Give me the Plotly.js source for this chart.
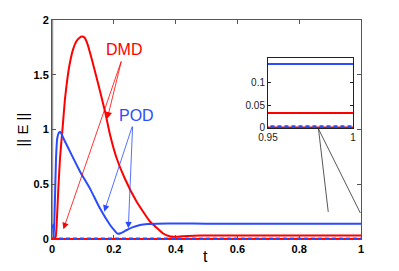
<!DOCTYPE html>
<html><head><meta charset="utf-8">
<script src="https://cdn.plot.ly/plotly-3.0.1.min.js"></script>
<style>html,body{margin:0;padding:0;background:#fff}#c{width:399px;height:271px}</style>
</head><body><div id="c"></div>
<script>
const tDMD = [0, 0.008, 0.012, 0.015, 0.02, 0.026, 0.035, 0.042, 0.05, 0.058, 0.068, 0.08, 0.09, 0.096, 0.105, 0.115, 0.128, 0.15, 0.172, 0.188, 0.209, 0.236, 0.274, 0.317, 0.34, 0.36, 0.38, 0.393, 0.42, 0.46, 0.5, 0.6, 0.8, 1.0];
const vDMD = [0, 0.005, 0.02, 0.13, 0.43, 0.74, 1.04, 1.28, 1.47, 1.61, 1.73, 1.81, 1.84, 1.85, 1.84, 1.78, 1.65, 1.41, 1.16, 0.95, 0.74, 0.55, 0.34, 0.16, 0.1, 0.05, 0.025, 0.02, 0.024, 0.03, 0.033, 0.033, 0.033, 0.033];
const tPOD = [0, 0.003, 0.004, 0.006, 0.009, 0.013, 0.017, 0.022, 0.026, 0.031, 0.037, 0.058, 0.091, 0.123, 0.155, 0.188, 0.2, 0.209, 0.213, 0.222, 0.242, 0.262, 0.285, 0.31, 0.339, 0.41, 0.5, 0.6, 0.8, 1.0];
const vPOD = [0.11, 0.11, 0.13, 0.01, 0.3, 0.74, 0.92, 0.97, 0.98, 0.96, 0.92, 0.80, 0.615, 0.46, 0.28, 0.128, 0.085, 0.056, 0.048, 0.052, 0.082, 0.108, 0.128, 0.137, 0.14, 0.141, 0.14, 0.14, 0.14, 0.14];
const tFlat = [0, 1];
const vRedFlat = [0.001, 0.001];
const vBlueDash = [0.004, 0.004];
const xTicks = [0, 0.2, 0.4, 0.6, 0.8, 1];
const xTickText = ['0', '0.2', '0.4', '0.6', '0.8', '1'];
const yTicks = [0, 0.5, 1, 1.5, 2];
const yTickText = ['0', '0.5', '1', '1.5', '2'];
const insetXTicks = [0.95, 1];
const insetXText = ['0.95', '1'];
const insetYTicks = [0, 0.05, 0.1];
const insetYText = ['0', '0.05', '0.1'];

const RED = '#ff0000', BLUE = '#2b4bff';
function traces(xa, ya) {
  return [
    {x: tFlat, y: vRedFlat, mode: 'lines', line: {color: RED, width: 2}, xaxis: xa, yaxis: ya, hoverinfo: 'skip'},
    {x: tFlat, y: vBlueDash, mode: 'lines', line: {color: BLUE, width: 2, dash: '4px,3px'}, xaxis: xa, yaxis: ya, hoverinfo: 'skip'},
    {x: tDMD, y: vDMD, mode: 'lines', line: {color: RED, width: 2, shape: 'spline', smoothing: 0.4}, xaxis: xa, yaxis: ya, hoverinfo: 'skip'},
    {x: tPOD, y: vPOD, mode: 'lines', line: {color: BLUE, width: 2, shape: 'spline', smoothing: 0.4}, xaxis: xa, yaxis: ya, hoverinfo: 'skip'}
  ];
}
const data = traces('x', 'y').concat(traces('x2', 'y2'));

const FAM = 'Liberation Sans, Arial, sans-serif';
const bold = {family: FAM, size: 11, color: '#000', weight: 'bold'};
const small = {family: FAM, size: 10, color: '#222'};

function arrow(x, y, ax, ay, color) {
  return {x: x, y: y, ax: ax, ay: ay, xref: 'x', yref: 'y', axref: 'x', ayref: 'y',
    showarrow: true, arrowhead: 2, arrowsize: 1.6, arrowwidth: 0.8, arrowcolor: color, text: ''};
}
function seg(x0, y0, x1, y1) {
  return {type: 'line', xref: 'x', yref: 'y', x0: x0, y0: y0, x1: x1, y1: y1, line: {color: '#444', width: 0.9}};
}

const layout = {
  width: 399, height: 271,
  margin: {l: 52, r: 38, t: 20, b: 32},
  paper_bgcolor: '#fff', plot_bgcolor: '#fff',
  showlegend: false,
  xaxis: {range: [0, 1], domain: [0, 1], tickvals: xTicks, ticktext: xTickText, ticks: 'inside', ticklen: 4,
    tickcolor: '#555', showline: true, linecolor: '#555', linewidth: 1, mirror: 'ticks', showgrid: false, zeroline: false,
    tickfont: bold},
  yaxis: {range: [0, 2], domain: [0, 1], tickvals: yTicks, ticktext: yTickText, ticks: 'inside', ticklen: 4,
    tickcolor: '#555', showline: true, linecolor: '#555', linewidth: 1, mirror: 'ticks', showgrid: false, zeroline: false,
    tickfont: bold},
  xaxis2: {anchor: 'y2', range: [0.95, 1], domain: [0.699, 0.974], tickvals: insetXTicks, ticktext: insetXText, ticks: 'inside', ticklen: 3,
    tickcolor: '#222', showline: true, linecolor: '#222', linewidth: 1, mirror: 'ticks', showgrid: false, zeroline: false,
    tickfont: small},
  yaxis2: {anchor: 'x2', range: [0, 0.153], domain: [0.507, 0.826], tickvals: insetYTicks, ticktext: insetYText, ticks: 'inside', ticklen: 3,
    tickcolor: '#222', showline: true, linecolor: '#222', linewidth: 1, mirror: 'ticks', showgrid: false, zeroline: false,
    tickfont: small},
  shapes: [
    {type: 'line', xref: 'x', yref: 'y', x0: 0, y0: 0, x1: 0, y1: 2, line: {color: '#999', width: 2.5}, layer: 'below'},
    seg(0.8625, 1.005, 0.894, 0.247),
    seg(0.8625, 1.005, 0.998, 0.237)
  ],
  annotations: [
    {x: 0.498, y: -0.082, xref: 'paper', yref: 'paper', text: 't', showarrow: false, xanchor: 'center', yanchor: 'middle',
      font: {family: FAM, size: 16, color: '#000'}},
    {x: -0.0955, y: 0.502, xref: 'paper', yref: 'paper', text: '|| E ||', textangle: -90, showarrow: false, xanchor: 'center', yanchor: 'middle',
      font: {family: FAM, size: 15, color: '#000'}},
    {x: 0.233, y: 1.735, xref: 'x', yref: 'y', text: 'DMD', showarrow: false, font: {family: FAM, size: 16, color: RED}},
    {x: 0.272, y: 1.126, xref: 'x', yref: 'y', text: 'POD', showarrow: false, font: {family: FAM, size: 16, color: BLUE}},
    arrow(0.179, 1.10, 0.2255, 1.635, RED),
    arrow(0.037, 0.09, 0.2255, 1.635, RED),
    arrow(0.169, 0.25, 0.261, 1.04, BLUE),
    arrow(0.247, 0.098, 0.261, 1.04, BLUE)
  ]
};
Plotly.newPlot('c', data, layout, {staticPlot: true, displayModeBar: false});
</script></body></html>
